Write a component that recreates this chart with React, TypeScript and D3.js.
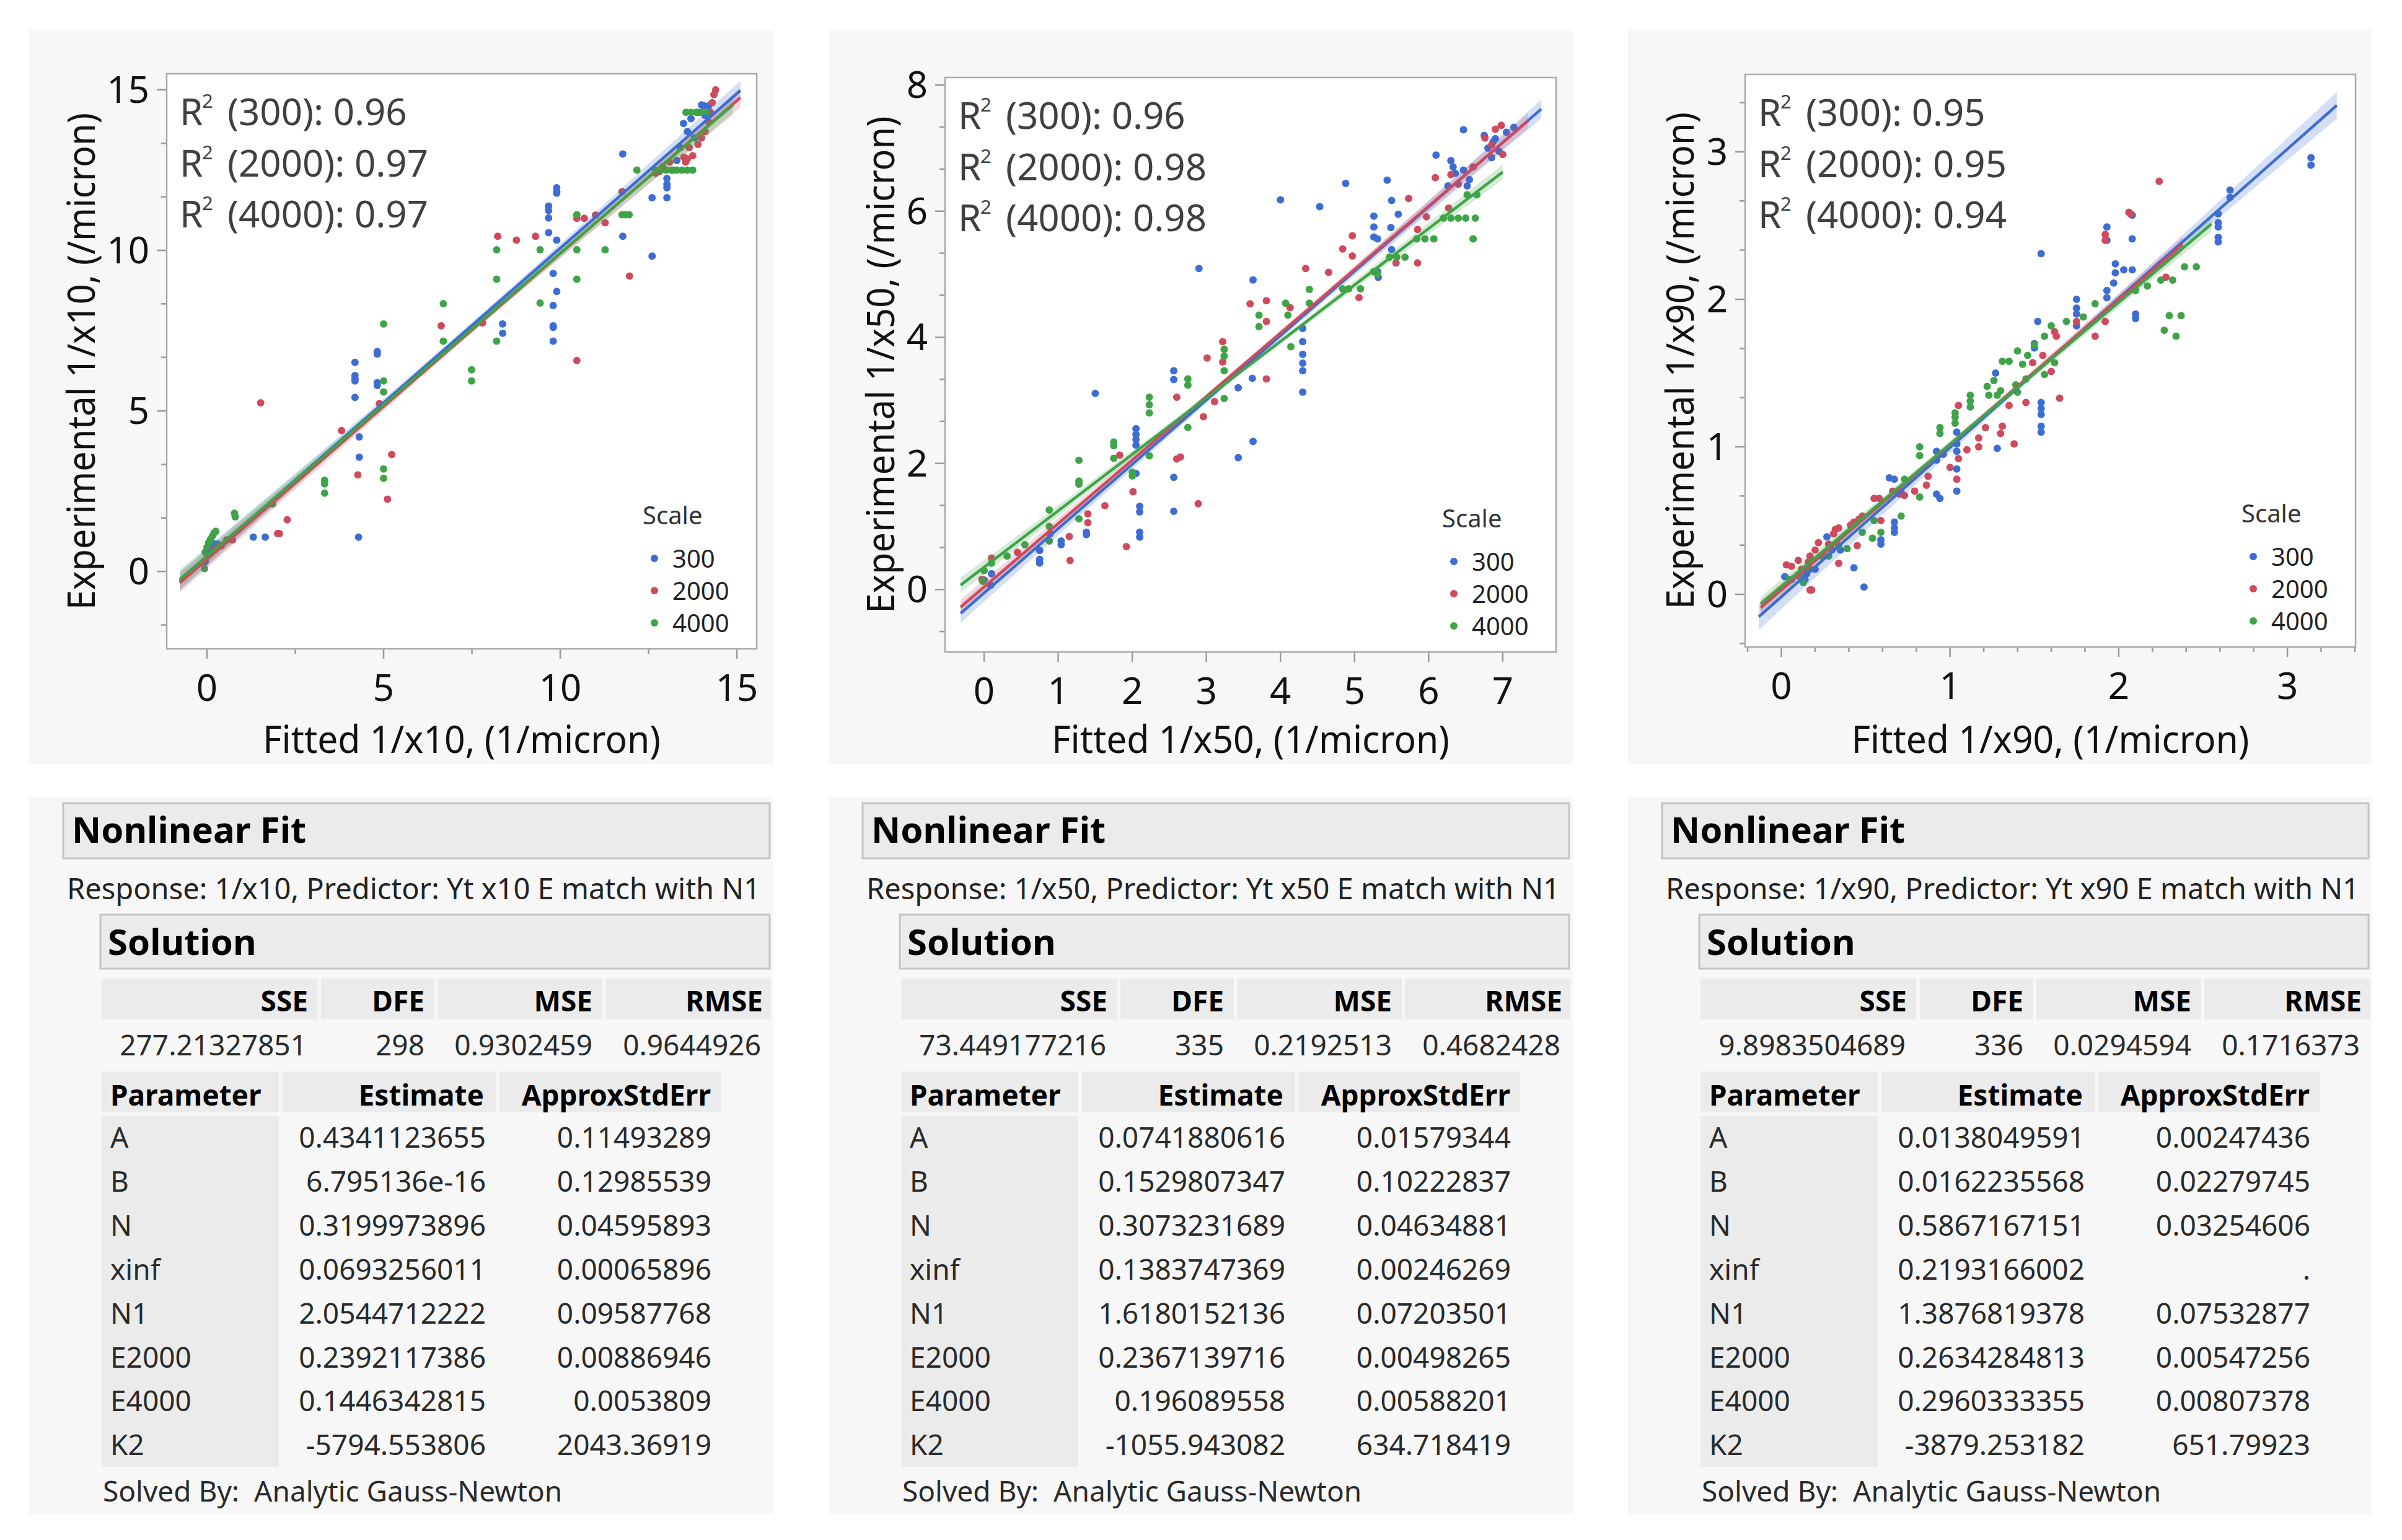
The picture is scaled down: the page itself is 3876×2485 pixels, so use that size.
import React from "react";
import * as d3 from "d3";

type Pt = [number, number];

const FONT = "'Segoe UI','Noto Sans','Open Sans',sans-serif";

// ---------- series meta ----------
const scaleNames = ["300", "2000", "4000"];
const seriesColors = ["#3d6dd3", "#cf4a5c", "#3fa447"];

// ---------- panel 1 : 1/x10 ----------
const p1Blue: Pt[] = [
  [-0.05, 0.3], [0.0, 0.55], [0.02, 0.7], [0.05, 0.84], [0.1, 0.75], [0.15, 0.9], [0.3, 0.85],
  [1.31, 1.07], [1.65, 1.07], [4.29, 1.07], [4.31, 4.19], [4.31, 3.56],
  [4.19, 6.51], [4.19, 6.1], [4.19, 6.0], [4.19, 5.93], [4.19, 5.42],
  [4.82, 6.85], [4.82, 6.77], [4.82, 5.88], [4.82, 5.79],
  [8.37, 7.71], [8.37, 7.42],
  [9.67, 11.38], [9.67, 11.24], [9.67, 11.01], [9.67, 10.55],
  [9.9, 11.95], [9.9, 11.83], [9.9, 11.78], [9.9, 10.32],
  [9.8, 9.28], [9.9, 8.72], [9.8, 8.28], [9.8, 7.65], [9.8, 7.6], [9.8, 7.17],
  [11.77, 13.0], [11.77, 10.44], [12.6, 11.64], [12.6, 9.82],
  [13.02, 12.24], [13.02, 12.06], [13.02, 11.95], [13.02, 11.64],
  [13.3, 12.8], [13.4, 13.2], [13.49, 13.95], [13.6, 13.7], [13.7, 14.1], [13.8, 13.5],
  [13.9, 14.3], [14.0, 14.53], [14.07, 14.5], [14.1, 14.2], [14.2, 14.5],
];
const p1Red: Pt[] = [
  [0.24, 0.72], [0.4, 0.8], [0.56, 0.98], [0.72, 0.98],
  [1.52, 5.25], [2.0, 1.18], [2.05, 1.18], [2.27, 1.61],
  [3.81, 4.39], [4.27, 3.01], [4.88, 5.23], [5.23, 3.64], [5.11, 2.25],
  [6.63, 7.65], [7.8, 7.74],
  [8.23, 10.44], [8.76, 10.32], [9.3, 10.44],
  [10.47, 11.0], [10.68, 11.0], [11.0, 11.1], [11.27, 10.86],
  [10.47, 6.57], [11.96, 9.2], [11.75, 11.83],
  [12.7, 12.4], [12.8, 12.45], [12.9, 12.6], [13.1, 12.75], [13.2, 12.5],
  [13.5, 12.9], [13.55, 12.75], [13.6, 12.85], [13.65, 13.2], [13.75, 12.95],
  [13.9, 13.3], [14.0, 13.5], [14.1, 13.7], [14.2, 14.0], [14.25, 14.3],
  [14.3, 14.6], [14.35, 14.85], [14.4, 15.0],
];
const p1Green: Pt[] = [
  [-0.07, 0.09], [-0.05, 0.6], [0.0, 0.75], [0.05, 0.9], [0.1, 1.0], [0.15, 1.1], [0.2, 1.2], [0.25, 1.25],
  [0.78, 1.81], [0.8, 1.7], [1.86, 2.1],
  [3.33, 2.84], [3.33, 2.73], [3.33, 2.44],
  [5.0, 7.71], [5.0, 5.93], [5.0, 5.59], [5.0, 3.19], [5.0, 2.9],
  [6.69, 8.34], [6.69, 7.17], [7.49, 6.28], [7.49, 5.93],
  [8.2, 10.02], [8.2, 9.1], [8.2, 7.17], [9.43, 10.02], [9.43, 8.36],
  [10.47, 11.11], [10.47, 10.02], [10.47, 9.1], [11.27, 10.02],
  [11.75, 11.11], [11.85, 11.11], [11.95, 11.11],
  [12.17, 12.5], [12.7, 12.5], [12.85, 12.5], [13.0, 12.5], [13.15, 12.5], [13.3, 12.5],
  [13.45, 12.5], [13.6, 12.5], [13.75, 12.5],
  [13.56, 14.3], [13.7, 14.3], [13.85, 14.3], [14.0, 14.3], [14.15, 14.3],
];
// fit lines: [xStart, xEnd, yStart, yEnd, bandMid, bandEnd]
const p1Fits: number[][] = [
  [-0.77, 15.1, -0.3, 14.98, 0.1, 0.3],
  [-0.77, 15.1, -0.36, 14.76, 0.1, 0.3],
  [-0.77, 14.89, -0.25, 14.53, 0.1, 0.3],
];

// ---------- panel 2 : 1/x50 ----------
const p2Blue: Pt[] = [
  [0.09, 0.07], [0.0, 0.15], [0.1, 0.25],
  [0.75, 0.62], [0.75, 0.48], [0.75, 0.42], [1.04, 0.77], [1.04, 0.71], [1.38, 0.91], [1.38, 0.87],
  [1.5, 3.11], [2.05, 2.55], [2.05, 2.46], [2.05, 2.38], [2.05, 2.29], [2.05, 1.84],
  [2.1, 1.32], [2.1, 1.23], [2.1, 0.91], [2.1, 0.83],
  [2.56, 3.47], [2.56, 3.33], [2.56, 1.78], [2.56, 1.24],
  [2.9, 5.09], [3.43, 3.2], [3.43, 2.09], [3.62, 3.35], [3.63, 4.91], [3.63, 2.35],
  [4.0, 6.18], [4.3, 4.14], [4.3, 3.93], [4.3, 3.73], [4.3, 3.59], [4.3, 3.47], [4.3, 3.13],
  [4.53, 6.07], [4.88, 6.44], [5.44, 6.49],
  [5.26, 5.92], [5.26, 5.75], [5.26, 5.59], [5.31, 5.56], [5.31, 5.04], [5.32, 4.95],
  [5.49, 5.74], [5.5, 5.39], [5.5, 6.17], [5.59, 5.95],
  [6.1, 6.89], [6.26, 6.4], [6.3, 6.8], [6.33, 6.7], [6.36, 6.6], [6.47, 6.65], [6.52, 6.4],
  [6.55, 6.5], [6.47, 7.29],
  [6.75, 7.2], [6.8, 7.0], [6.85, 6.85], [6.87, 7.1], [6.9, 7.15], [6.95, 6.95], [7.05, 7.25], [7.15, 7.33],
];
const p2Red: Pt[] = [
  [-0.03, 0.16], [0.1, 0.5], [0.45, 0.59], [0.89, 0.88], [1.15, 0.84], [1.16, 0.46],
  [1.4, 1.2], [1.4, 1.06], [1.63, 1.33],
  [1.83, 2.13], [1.92, 0.68], [2.01, 1.55], [2.6, 2.07], [2.65, 2.1], [2.89, 1.36],
  [2.6, 3.05], [2.96, 2.74], [3.11, 2.98], [3.01, 3.67], [3.22, 3.93], [3.22, 3.61],
  [3.59, 4.53], [3.81, 4.58], [3.81, 4.25], [3.81, 3.34], [4.13, 4.47],
  [4.34, 5.09], [4.65, 5.03], [4.84, 5.4], [4.97, 5.61], [4.97, 5.29], [5.06, 4.63],
  [5.56, 5.18], [5.85, 5.18], [5.73, 6.2], [5.97, 5.91], [5.85, 5.71], [6.09, 6.53],
  [6.3, 6.58], [6.4, 6.43], [6.27, 6.05], [6.6, 6.7],
  [6.76, 7.16], [6.85, 7.05], [6.9, 7.3], [6.98, 7.36], [7.0, 6.9],
];
const p2Green: Pt[] = [
  [0.0, 0.3], [0.1, 0.42], [-0.02, 0.13], [0.31, 0.53], [0.55, 0.71],
  [0.88, 1.26], [0.88, 1.0], [0.88, 0.77],
  [1.28, 1.72], [1.28, 1.67], [1.28, 2.05], [1.28, 1.12],
  [1.75, 2.34], [1.75, 2.28], [1.75, 2.08], [2.0, 1.86], [2.0, 1.8],
  [2.23, 3.05], [2.23, 2.93], [2.23, 2.8], [2.23, 2.12],
  [2.75, 3.34], [2.75, 3.24], [2.75, 2.57],
  [3.24, 3.81], [3.24, 3.7], [3.24, 3.47], [3.24, 3.03],
  [3.71, 4.35], [3.71, 4.17], [4.07, 4.54], [4.1, 4.35], [4.14, 3.85],
  [4.39, 4.76], [4.39, 4.54],
  [4.84, 4.77], [4.92, 4.77], [5.08, 4.77], [5.26, 5.04], [5.31, 5.0],
  [5.47, 5.27], [5.57, 5.27], [5.68, 5.27],
  [5.84, 5.56], [5.95, 5.56], [6.07, 5.56],
  [6.2, 5.89], [6.3, 5.89], [6.4, 5.89], [6.5, 5.89], [6.63, 5.89], [6.6, 5.56], [6.52, 6.26], [6.65, 6.26],
];
const p2Fits: number[][] = [
  [-0.317, 7.52, -0.378, 7.62, 0.05, 0.15],
  [-0.317, 7.34, -0.28, 7.43, 0.04, 0.12],
  [-0.317, 7.0, 0.07, 6.62, 0.04, 0.12],
];

// ---------- panel 3 : 1/x90 ----------
const p3Blue: Pt[] = [
  [3.14, 2.96], [3.14, 2.91], [2.66, 2.74], [2.66, 2.69],
  [2.59, 2.58], [2.59, 2.52], [2.59, 2.49], [2.59, 2.42], [2.59, 2.39],
  [2.08, 2.57], [2.08, 2.41], [2.08, 2.2], [2.03, 2.2], [1.98, 2.24], [1.98, 2.18], [1.97, 2.11],
  [1.93, 2.49], [1.93, 2.4], [1.93, 2.06], [1.93, 2.01],
  [2.1, 1.9], [2.1, 1.87], [1.54, 2.31],
  [1.75, 2.0], [1.75, 1.94], [1.75, 1.9], [1.75, 1.82],
  [1.52, 1.85], [1.5, 1.7], [1.5, 1.67],
  [1.54, 1.3], [1.54, 1.26], [1.54, 1.22], [1.54, 1.14], [1.54, 1.1],
  [1.27, 1.5], [1.28, 0.99],
  [1.04, 1.1], [1.04, 1.02], [1.04, 0.97], [1.04, 0.85], [1.04, 0.7],
  [0.92, 0.97], [0.92, 0.91], [0.94, 0.65], [0.92, 0.68], [0.96, 0.95],
  [0.67, 0.78], [0.67, 0.49], [0.67, 0.45], [0.67, 0.42], [0.59, 0.34], [0.59, 0.37], [0.64, 0.79],
  [0.43, 0.18], [0.49, 0.05], [0.27, 0.39],
  [0.02, 0.12], [0.06, 0.1], [0.1, 0.13], [0.15, 0.14], [0.14, 0.1], [0.2, 0.17], [0.3, 0.3], [0.35, 0.3],
];
const p3Red: Pt[] = [
  [2.24, 2.8], [2.06, 2.59], [2.07, 2.58], [1.92, 2.44], [1.92, 2.4], [2.28, 2.15],
  [1.92, 1.85], [1.86, 1.75], [1.75, 1.85], [1.62, 1.78], [1.63, 1.75], [1.65, 1.33],
  [1.55, 1.62], [1.49, 1.57], [1.6, 1.51], [1.45, 1.3], [1.38, 1.02],
  [1.31, 1.14], [1.3, 1.09], [1.35, 1.28], [1.21, 1.13], [1.17, 1.06], [1.17, 1.0],
  [1.05, 1.28], [1.1, 0.98], [1.05, 0.92], [1.04, 0.78], [1.0, 0.86],
  [0.87, 0.8], [0.86, 0.74], [0.79, 0.7],
  [0.66, 0.7], [0.7, 0.68], [0.73, 0.67], [0.71, 0.69],
  [0.55, 0.65], [0.58, 0.65], [0.59, 0.5],
  [0.48, 0.53], [0.46, 0.51], [0.43, 0.49], [0.41, 0.47],
  [0.32, 0.44], [0.34, 0.45], [0.31, 0.41], [0.28, 0.34],
  [0.22, 0.35], [0.2, 0.3], [0.17, 0.26], [0.16, 0.22],
  [0.06, 0.19], [0.03, 0.2], [0.1, 0.23], [0.12, 0.17],
  [0.18, 0.03], [0.17, 0.03], [0.34, 0.21], [0.45, 0.33],
];
const p3Green: Pt[] = [
  [2.46, 2.22], [2.39, 2.22], [2.32, 2.13], [2.25, 2.13], [2.17, 2.09], [2.1, 2.06],
  [2.3, 1.89], [2.37, 1.89], [2.27, 1.79], [2.34, 1.75],
  [1.86, 1.97], [1.79, 1.88], [1.69, 1.85], [1.6, 1.82], [1.56, 1.75], [1.5, 1.69],
  [1.46, 1.62], [1.4, 1.65], [1.31, 1.58], [1.35, 1.58], [1.43, 1.56],
  [1.62, 1.57], [1.56, 1.49], [1.45, 1.46], [1.39, 1.42], [1.26, 1.45], [1.22, 1.41],
  [1.3, 1.38], [1.28, 1.35], [1.23, 1.35], [1.4, 1.37],
  [1.12, 1.35], [1.12, 1.31], [1.12, 1.27], [1.03, 1.23], [1.03, 1.2], [1.03, 1.16],
  [0.94, 1.13], [0.94, 1.09], [0.82, 1.0], [0.82, 0.94], [0.82, 0.66],
  [0.73, 0.78], [0.71, 0.53], [0.59, 0.42], [0.54, 0.38], [0.48, 0.42], [0.55, 0.5],
  [0.39, 0.31], [0.34, 0.33], [0.28, 0.26], [0.24, 0.26],
  [0.17, 0.17], [0.11, 0.12], [0.13, 0.08], [0.05, 0.1],
];
const p3Fits: number[][] = [
  [-0.134, 3.293, -0.152, 3.315, 0.02, 0.09],
  [-0.123, 2.38, -0.09, 2.374, 0.02, 0.05],
  [-0.123, 2.55, -0.065, 2.51, 0.02, 0.05],
];

// ---------- axes ----------
const axisNames = ["x10", "x50", "x90"];
const xDomains = [[-1.14, 15.56], [-0.527, 7.72], [-0.215, 3.404]];
const yDomains = [[-2.41, 15.5], [-0.99, 8.12], [-0.357, 3.525]];
const xTicks = [[0, 5, 10, 15], [0, 1, 2, 3, 4, 5, 6, 7], [0, 1, 2, 3]];
const yTicks = [[0, 5, 10, 15], [0, 2, 4, 6, 8], [0, 1, 2, 3]];
const xMinorStep = [2.5, 0, 0.2];
const yMinorStep = [5 / 3, 2 / 3, 1 / 3];
const r2Values = [["0.96", "0.97", "0.97"], ["0.96", "0.98", "0.98"], ["0.95", "0.95", "0.94"]];

// ---------- tables ----------
const responseNames = ["1/x10", "1/x50", "1/x90"];
const sseVals = ["277.21327851", "73.449177216", "9.8983504689"];
const dfeVals = ["298", "335", "336"];
const mseVals = ["0.9302459", "0.2192513", "0.0294594"];
const rmseVals = ["0.9644926", "0.4682428", "0.1716373"];
const paramNames = ["A", "B", "N", "xinf", "N1", "E2000", "E4000", "K2"];
const estimates = [
  ["0.4341123655", "6.795136e-16", "0.3199973896", "0.0693256011", "2.0544712222", "0.2392117386", "0.1446342815", "-5794.553806"],
  ["0.0741880616", "0.1529807347", "0.3073231689", "0.1383747369", "1.6180152136", "0.2367139716", "0.196089558", "-1055.943082"],
  ["0.0138049591", "0.0162235568", "0.5867167151", "0.2193166002", "1.3876819378", "0.2634284813", "0.2960333355", "-3879.253182"],
];
const stdErrs = [
  ["0.11493289", "0.12985539", "0.04595893", "0.00065896", "0.09587768", "0.00886946", "0.0053809", "2043.36919"],
  ["0.01579344", "0.10222837", "0.04634881", "0.00246269", "0.07203501", "0.00498265", "0.00588201", "634.718419"],
  ["0.00247436", "0.02279745", "0.03254606", ".", "0.07532877", "0.00547256", "0.00807378", "651.79923"],
];

const panelPoints = [
  [p1Blue, p1Red, p1Green],
  [p2Blue, p2Red, p2Green],
  [p3Blue, p3Red, p3Green],
];
const panelFits = [p1Fits, p2Fits, p3Fits];

// ---------- layout ----------
const W = 3876;
const H = 2485;
const DX = 1290;
const frames = [
  { l: 269, t: 119, r: 1221, b: 1047 },
  { l: 1525, t: 125, r: 2511, b: 1052 },
  { l: 2816, t: 120, r: 3801, b: 1044 },
];
const BG = "#f7f7f7";
const TICK = "#9a9a9a";

function minorTicks(dom: number[], step: number, majors: number[]) {
  if (!step) return [];
  const out: number[] = [];
  const i0 = Math.ceil(dom[0] / step - 1e-9);
  const i1 = Math.floor(dom[1] / step + 1e-9);
  for (let i = i0; i <= i1; i++) {
    const v = i * step;
    if (majors.some((m) => Math.abs(m - v) < 1e-6)) continue;
    out.push(v);
  }
  return out;
}

function ChartPanel({ k }: { k: number }) {
  const f = frames[k];
  const ox = k * DX;
  const x = d3.scaleLinear().domain(xDomains[k]).range([f.l, f.r]);
  const y = d3.scaleLinear().domain(yDomains[k]).range([f.b, f.t]);
  const xm = minorTicks(xDomains[k], xMinorStep[k], xTicks[k]);
  const ym = minorTicks(yDomains[k], yMinorStep[k], yTicks[k]);
  const clipId = `clip${k}`;
  const name = axisNames[k];

  const fits = panelFits[k].map((fit, s) => {
    const [xs, xe, ys, ye, hMid, hEnd] = fit;
    const slope = (ye - ys) / (xe - xs);
    const mid = (xs + xe) / 2;
    const half = (xe - xs) / 2;
    const hw = (v: number) => {
      const u = (v - mid) / half;
      return Math.sqrt(hMid * hMid + (hEnd * hEnd - hMid * hMid) * u * u);
    };
    const xsArr = d3.range(0, 61).map((i) => xs + ((xe - xs) * i) / 60);
    const area = d3
      .area<number>()
      .x((v) => x(v))
      .y0((v) => y(ys + slope * (v - xs) - hw(v)))
      .y1((v) => y(ys + slope * (v - xs) + hw(v)));
    const line = d3
      .line<number>()
      .x((v) => x(v))
      .y((v) => y(ys + slope * (v - xs)));
    return { s, band: area(xsArr) || "", line: line([xs, xe]) || "" };
  });

  return (
    <g>
      <rect x={47 + ox} y={48} width={1201} height={1185} fill={BG} />
      <defs>
        <clipPath id={clipId}>
          <rect x={f.l} y={f.t} width={f.r - f.l} height={f.b - f.t} />
        </clipPath>
      </defs>
      <rect x={f.l} y={f.t} width={f.r - f.l} height={f.b - f.t} fill="#ffffff" />
      {/* y ticks */}
      {yTicks[k].map((t) => (
        <g key={"yt" + t}>
          <line x1={f.l - 16} x2={f.l} y1={y(t)} y2={y(t)} stroke={TICK} strokeWidth={2.5} />
          <text x={f.l - 28} y={y(t) + 21} textAnchor="end" fontSize={60} fill="#111" fontFamily={FONT}>
            {t}
          </text>
        </g>
      ))}
      {ym.map((t) => (
        <line key={"ym" + t} x1={f.l - 9} x2={f.l} y1={y(t)} y2={y(t)} stroke={TICK} strokeWidth={2.5} />
      ))}
      {/* x ticks */}
      {xTicks[k].map((t) => (
        <g key={"xt" + t}>
          <line x1={x(t)} x2={x(t)} y1={f.b} y2={f.b + 16} stroke={TICK} strokeWidth={2.5} />
          <text x={x(t)} y={f.b + 84} textAnchor="middle" fontSize={60} fill="#111" fontFamily={FONT}>
            {t}
          </text>
        </g>
      ))}
      {xm.map((t) => (
        <line key={"xm" + t} x1={x(t)} x2={x(t)} y1={f.b} y2={f.b + 8} stroke={TICK} strokeWidth={2.5} />
      ))}
      {/* axis titles */}
      <text
        x={(f.l + f.r) / 2}
        y={1215}
        textAnchor="middle"
        fontSize={62}
        fill="#111"
        fontFamily={FONT}
        textLength={642}
        lengthAdjust="spacingAndGlyphs"
      >
        {`Fitted 1/${name}, (1/micron)`}
      </text>
      <text
        transform={`translate(${153 + ox},${(f.t + f.b) / 2}) rotate(-90)`}
        textAnchor="middle"
        fontSize={62}
        fill="#111"
        fontFamily={FONT}
        textLength={802}
        lengthAdjust="spacingAndGlyphs"
      >
        {`Experimental 1/${name}, (/micron)`}
      </text>
      {/* points */}
      <g clipPath={`url(#${clipId})`}>
        {panelPoints[k].map((pts, s) =>
          pts.map((p, i) => (
            <circle key={`p${s}-${i}`} cx={x(p[0])} cy={y(p[1])} r={6} fill={seriesColors[s]} />
          ))
        )}
        {fits.map((ft) => (
          <path key={"b" + ft.s} d={ft.band} fill={seriesColors[ft.s]} fillOpacity={0.22} stroke="none" />
        ))}
        {fits.map((ft) => (
          <path key={"l" + ft.s} d={ft.line} fill="none" stroke={seriesColors[ft.s]} strokeWidth={4.5} />
        ))}
      </g>
      <rect x={f.l} y={f.t} width={f.r - f.l} height={f.b - f.t} fill="none" stroke="#a9a9a9" strokeWidth={2.5} />
      {/* R^2 labels */}
      {scaleNames.map((sn, i) => {
        const bx = f.l + 21;
        const by = f.t + 83 + i * 82.5;
        return (
          <g key={"r2" + i} fill="#404040" fontFamily={FONT}>
            <text x={bx} y={by} fontSize={60}>R</text>
            <text x={bx + 36} y={by - 28} fontSize={31}>2</text>
            <text x={bx + 77} y={by} fontSize={60}>{`(${sn}): ${r2Values[k][i]}`}</text>
          </g>
        );
      })}
      {/* legend */}
      <text x={f.r - 184} y={f.b - 201} fontSize={40} fill="#333" fontFamily={FONT}>
        Scale
      </text>
      {scaleNames.map((sn, i) => (
        <g key={"lg" + i}>
          <circle cx={f.r - 165} cy={f.b - 146 + i * 52} r={6} fill={seriesColors[i]} />
          <text x={f.r - 136} y={f.b - 131 + i * 52} fontSize={40} fill="#222" fontFamily={FONT}>
            {sn}
          </text>
        </g>
      ))}
    </g>
  );
}

function TablePanel({ k }: { k: number }) {
  const ox = k * DX;
  const gray = "#ebebeb";
  const fs = 46;
  const rowY = (i: number) => 1852 + i * 70.9;
  return (
    <g fontFamily={FONT}>
      <rect x={47 + ox} y={1287} width={1201} height={1156} fill={BG} />
      <rect x={102 + ox} y={1296} width={1140} height={89} fill={gray} stroke="#c4c4c4" strokeWidth={3} />
      <text x={116 + ox} y={1360} fontSize={58} fontWeight="bold" fill="#000">
        Nonlinear Fit
      </text>
      <text
        x={108 + ox}
        y={1451}
        fontSize={48}
        fill="#222"
        textLength={1119}
        lengthAdjust="spacingAndGlyphs"
      >
        {`Response: ${responseNames[k]}, Predictor: Yt ${axisNames[k]} E match with N1`}
      </text>
      <rect x={162 + ox} y={1476} width={1080} height={87} fill={gray} stroke="#c4c4c4" strokeWidth={3} />
      <text x={174 + ox} y={1541} fontSize={58} fontWeight="bold" fill="#000">
        Solution
      </text>
      {/* summary header */}
      {[
        [164, 512, "SSE", 497],
        [518, 701, "DFE", 685],
        [706, 972, "MSE", 956],
        [977, 1244, "RMSE", 1231],
      ].map(([a, b, t, rx]) => (
        <g key={"h" + t}>
          <rect x={(a as number) + ox} y={1579} width={(b as number) - (a as number)} height={66} fill={gray} />
          <text x={(rx as number) + ox} y={1632} textAnchor="end" fontSize={fs} fontWeight="bold" fill="#000">
            {t as string}
          </text>
        </g>
      ))}
      {[
        [sseVals[k], 495],
        [dfeVals[k], 685],
        [mseVals[k], 956],
        [rmseVals[k], 1228],
      ].map(([v, rx], i) => (
        <text key={"sv" + i} x={(rx as number) + ox} y={1703} textAnchor="end" fontSize={fs} fill="#2a2a2a">
          {v as string}
        </text>
      ))}
      {/* parameter header */}
      <rect x={164 + ox} y={1729} width={286} height={66} fill={gray} />
      <rect x={456 + ox} y={1729} width={344} height={66} fill={gray} />
      <rect x={806 + ox} y={1729} width={357} height={66} fill={gray} />
      <text x={178 + ox} y={1784} fontSize={fs} fontWeight="bold" fill="#000">
        Parameter
      </text>
      <text x={781 + ox} y={1784} textAnchor="end" fontSize={fs} fontWeight="bold" fill="#000">
        Estimate
      </text>
      <text x={1147 + ox} y={1784} textAnchor="end" fontSize={fs} fontWeight="bold" fill="#000">
        ApproxStdErr
      </text>
      <rect x={164 + ox} y={1801} width={286} height={566} fill={gray} />
      {paramNames.map((p, i) => (
        <g key={"pr" + i}>
          <text x={178 + ox} y={rowY(i)} fontSize={fs} fill="#2a2a2a">
            {p}
          </text>
          <text x={784 + ox} y={rowY(i)} textAnchor="end" fontSize={fs} fill="#2a2a2a">
            {estimates[k][i]}
          </text>
          <text x={1148 + ox} y={rowY(i)} textAnchor="end" fontSize={fs} fill="#2a2a2a">
            {stdErrs[k][i]}
          </text>
        </g>
      ))}
      <text x={166 + ox} y={2423} fontSize={fs} fill="#2a2a2a" style={{ whiteSpace: "pre" }}>
        {"Solved By:  Analytic Gauss-Newton"}
      </text>
    </g>
  );
}

export default function App() {
  return (
    <svg
      width={W}
      height={H}
      viewBox={`0 0 ${W} ${H}`}
      style={{ position: "absolute", left: 0, top: 0, background: "#ffffff" }}
    >
      <rect x={0} y={0} width={W} height={H} fill="#ffffff" />
      {[0, 1, 2].map((k) => (
        <ChartPanel key={"c" + k} k={k} />
      ))}
      {[0, 1, 2].map((k) => (
        <TablePanel key={"t" + k} k={k} />
      ))}
    </svg>
  );
}
